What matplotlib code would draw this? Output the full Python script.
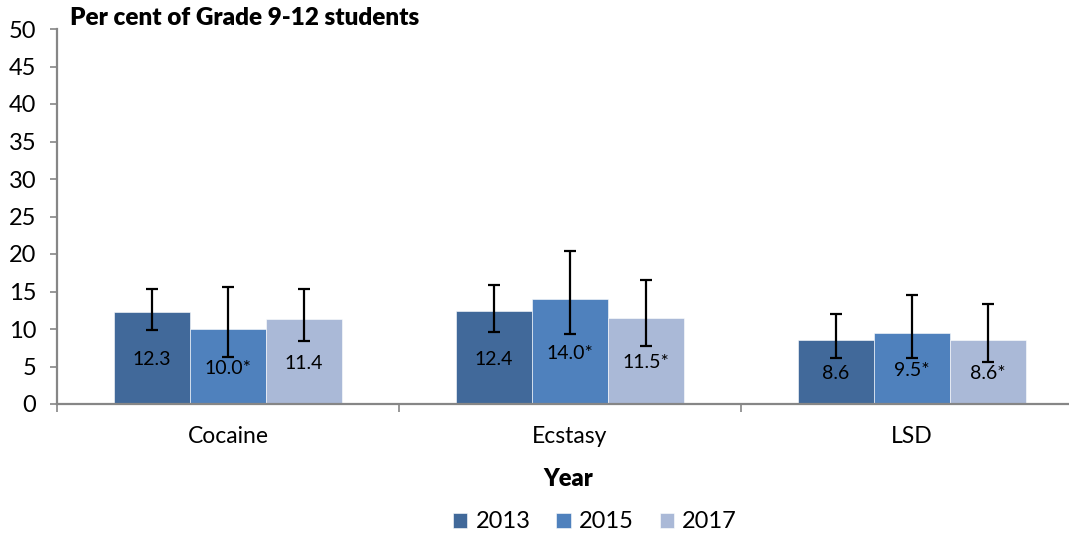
import numpy as np
import matplotlib.pyplot as plt

plt.rcParams['font.family'] = ['Lato', 'DejaVu Sans']

# Data
drugs = ["Cocaine", "Ecstasy", "LSD"]
years = ["2013", "2015", "2017"]
values = {
    "2013": [12.3, 12.4, 8.6],
    "2015": [10.0, 14.0, 9.5],
    "2017": [11.4, 11.5, 8.6],
}
labels = {
    "2013": ["12.3", "12.4", "8.6"],
    "2015": ["10.0*", "14.0*", "9.5*"],
    "2017": ["11.4", "11.5*", "8.6*"],
}
ci_low = {
    "2013": [9.9, 9.6, 6.1],
    "2015": [6.3, 9.3, 6.1],
    "2017": [8.4, 7.7, 5.6],
}
ci_high = {
    "2013": [15.3, 15.9, 12.0],
    "2015": [15.6, 20.4, 14.5],
    "2017": [15.4, 16.6, 13.4],
}
colors = {"2013": "#41699A", "2015": "#4F81BD", "2017": "#AAB9D7"}

W, H = 1069, 537
fig = plt.figure(figsize=(W / 100, H / 100), dpi=100)
ax = fig.add_axes([57 / W, (H - 404) / H, 1026 / W, 375 / H])

x = np.arange(len(drugs))
bw = 0.222
axis_gray = "#868686"

for i, yr in enumerate(years):
    pos = x + (i - 1) * bw
    vals = np.array(values[yr])
    ax.bar(pos, vals, bw, color=colors[yr], label=yr, edgecolor="white", linewidth=0.4, zorder=2)
    err = [vals - np.array(ci_low[yr]), np.array(ci_high[yr]) - vals]
    ax.errorbar(pos, vals, yerr=err, fmt="none", ecolor="black", elinewidth=1.6,
                capsize=4, capthick=1.6, zorder=3)
    for p, v, t in zip(pos, vals, labels[yr]):
        ax.text(p, v / 2 - 0.25, t, ha="center", va="center", fontsize=14, zorder=4)

ax.set_xlim(-0.5, 2.5)
ax.set_ylim(0, 50)
ax.set_yticks(range(0, 51, 5))
ax.set_xticks([-0.5, 0.5, 1.5, 2.5])
ax.set_xticklabels([])
ax.set_xticks(x, minor=True)
ax.set_xticklabels(drugs, minor=True, fontsize=16.5)
ax.tick_params(axis="x", which="minor", length=0, pad=16)
ax.tick_params(axis="x", which="major", length=6, color=axis_gray, width=1.2)
ax.tick_params(axis="y", length=5, color=axis_gray, width=1.2, labelsize=17, pad=10)

for s in ["top", "right"]:
    ax.spines[s].set_visible(False)
for s in ["left", "bottom"]:
    ax.spines[s].set_color(axis_gray)
    ax.spines[s].set_linewidth(1.6)

fig.text(70 / W, 1 - 18 / H, "Per cent of Grade 9-12 students", fontsize=17.5,
         fontweight="heavy", va="center", ha="left")
fig.text(568 / W, 1 - 479 / H, "Year", fontsize=17, fontweight="heavy",
         ha="center", va="center")

fig.legend(loc="center", bbox_to_anchor=(595 / W, 1 - 522 / H), ncol=3, frameon=False,
           fontsize=17, handlelength=0.6, handleheight=0.6, handletextpad=0.35,
           columnspacing=1.1)

fig.savefig("out.png", dpi=100)
